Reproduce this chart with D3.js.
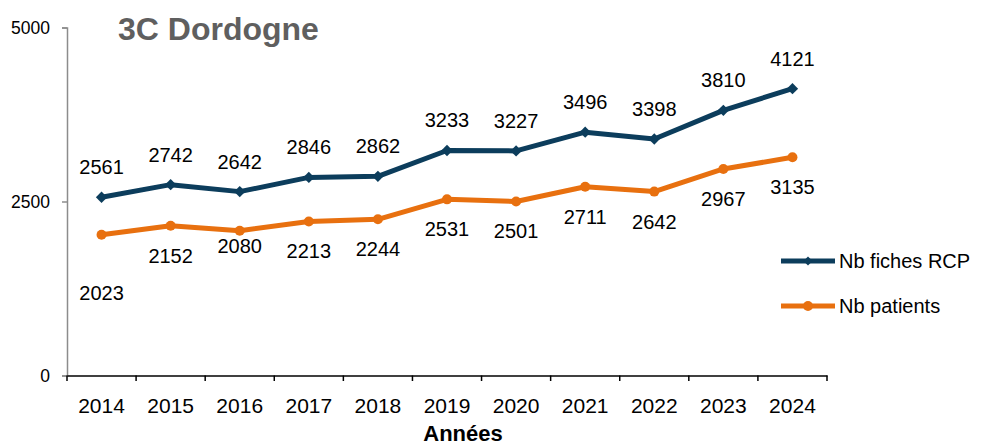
<!DOCTYPE html>
<html>
<head>
<meta charset="utf-8">
<script src="https://cdn.jsdelivr.net/npm/d3@7"></script>
<style>
  body { margin: 0; background: #fff; }
  text { font-family: "Liberation Sans", Arial, sans-serif; }
</style>
</head>
<body>
<svg id="chart" width="981" height="446"></svg>
<script>
// donnees
var years = ["2014","2015","2016","2017","2018","2019","2020","2021","2022","2023","2024"];
var fichesRCP = [2561, 2742, 2642, 2846, 2862, 3233, 3227, 3496, 3398, 3810, 4121];
var patients = [2023, 2152, 2080, 2213, 2244, 2531, 2501, 2711, 2642, 2967, 3135];
var yTicks = [0, 2500, 5000];
var seriesNames = ["Nb fiches RCP", "Nb patients"];

var blue = "#0c3d5c";
var orange = "#e8700f";

var svg = d3.select("#chart");

var x = d3.scaleBand().domain(years).range([67, 827]).padding(0);
var y = d3.scaleLinear().domain([0, 5000]).range([375.5, 27.5]);

function cx(d, i) { return x(years[i]) + x.bandwidth()/2; }

// axe Y
var yAxis = svg.append("g")
  .attr("transform", "translate(67,0)")
  .call(d3.axisLeft(y).tickValues(yTicks).tickSize(5).tickPadding(12).tickFormat(d3.format("d")));
yAxis.select(".domain").attr("stroke", "#8c8c8c").attr("stroke-width", 1.5);
yAxis.selectAll(".tick line").attr("stroke", "#8c8c8c").attr("stroke-width", 1.5);
yAxis.selectAll("text").style("font-size", "17.5px").attr("fill", "#000");

// axe X
var xAxis = svg.append("g")
  .attr("transform", "translate(0,375.5)")
  .call(d3.axisBottom(x).tickSize(0).tickPadding(23));
xAxis.select(".domain").attr("stroke", "#000").attr("stroke-width", 1.5);
xAxis.selectAll("text").style("font-size", "21px").attr("fill", "#000");

// petits traits entre les annees
var edges = years.map(function(d){ return x(d); }).concat([827]);
svg.append("g").selectAll("line").data(edges).enter().append("line")
  .attr("x1", function(d){ return d; })
  .attr("x2", function(d){ return d; })
  .attr("y1", 375.5)
  .attr("y2", 381)
  .attr("stroke", "#000")
  .attr("stroke-width", 1.5);

// titre
svg.append("text")
  .attr("x", 118)
  .attr("y", 40)
  .text("3C Dordogne")
  .style("font-size", "32px")
  .style("font-weight", "bold")
  .attr("fill", "#5f5f5f");

svg.append("text")
  .attr("x", 463)
  .attr("y", 441)
  .attr("text-anchor", "middle")
  .text("Années")
  .style("font-size", "22px")
  .style("font-weight", "bold")
  .attr("fill", "#000");

var line = d3.line()
  .x(function(d, i){ return cx(d, i); })
  .y(function(d){ return y(d); });

// courbe patients
svg.append("path")
  .attr("d", line(patients))
  .attr("fill", "none")
  .attr("stroke", orange)
  .attr("stroke-width", 5)
  .attr("stroke-linejoin", "round");

svg.append("g").selectAll("circle").data(patients).enter().append("circle")
  .attr("cx", cx)
  .attr("cy", function(d){ return y(d); })
  .attr("r", 5)
  .attr("fill", orange);

// courbe fiches RCP
svg.append("path")
  .attr("d", line(fichesRCP))
  .attr("fill", "none")
  .attr("stroke", blue)
  .attr("stroke-width", 5)
  .attr("stroke-linejoin", "round");

var diamond = d3.symbol().type(d3.symbolSquare).size(64);
svg.append("g").selectAll("path").data(fichesRCP).enter().append("path")
  .attr("d", diamond)
  .attr("transform", function(d, i){ return "translate(" + cx(d, i) + "," + y(d) + ") rotate(45)"; })
  .attr("fill", blue);

// etiquettes
svg.append("g").selectAll("text").data(fichesRCP).enter().append("text")
  .attr("x", cx)
  .attr("y", function(d){ return y(d) - 30 + 7; })
  .attr("text-anchor", "middle")
  .style("font-size", "20px")
  .attr("fill", "#000")
  .text(function(d){ return d; });

// decalages des etiquettes orange (placement Excel)
var nudge = {0: 28, 2: -15};
svg.append("g").selectAll("text").data(patients).enter().append("text")
  .attr("x", cx)
  .attr("y", function(d, i){ return y(d) + 30 + (nudge[i] || 0) + 7; })
  .attr("text-anchor", "middle")
  .style("font-size", "20px")
  .attr("fill", "#000")
  .text(function(d){ return d; });

// legende
var legend = svg.append("g");
var legY = [261, 306];
var legColors = [blue, orange];
seriesNames.forEach(function(name, i){
  legend.append("line")
    .attr("x1", 781).attr("x2", 835)
    .attr("y1", legY[i]).attr("y2", legY[i])
    .attr("stroke", legColors[i])
    .attr("stroke-width", 5);
  if (i == 0) {
    legend.append("path")
      .attr("d", d3.symbol().type(d3.symbolSquare).size(40))
      .attr("transform", "translate(808," + legY[i] + ") rotate(45)")
      .attr("fill", blue);
  } else {
    legend.append("circle")
      .attr("cx", 808).attr("cy", legY[i]).attr("r", 5)
      .attr("fill", orange);
  }
  legend.append("text")
    .attr("x", 839)
    .attr("y", legY[i] + 7)
    .text(name)
    .style("font-size", "20px")
    .attr("fill", "#000");
});
</script>
</body>
</html>
